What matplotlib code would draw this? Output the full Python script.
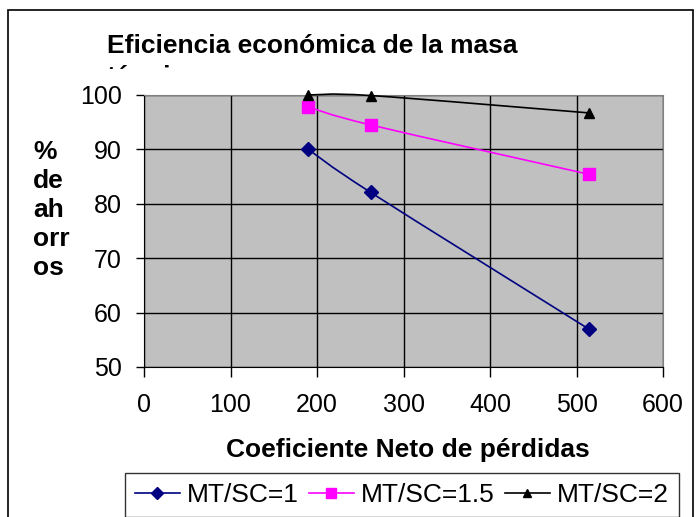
import numpy as np
import matplotlib
matplotlib.use('Agg')
import matplotlib.pyplot as plt
from matplotlib.path import Path
from matplotlib.patches import PathPatch, Rectangle
from matplotlib.lines import Line2D
from matplotlib.transforms import Bbox

plt.rcParams['font.family'] = ['Liberation Sans', 'DejaVu Sans']

# data
coef = [190, 262, 515]
mt1 = [90.0, 82.1, 56.9]
mt15 = [97.8, 94.5, 85.4]
mt2 = [100.0, 99.9, 96.7]
labels = ['MT/SC=1', 'MT/SC=1.5', 'MT/SC=2']
xticks = [0, 100, 200, 300, 400, 500, 600]
yticks = [50, 60, 70, 80, 90, 100]


def smooth_path(x, y):
    # Excel style smoothed line (Catmull-Rom as cubic Bezier)
    pts = np.column_stack([x, y]).astype(float)
    n = len(pts)
    verts = [pts[0]]
    codes = [Path.MOVETO]
    for i in range(n - 1):
        p0 = pts[max(i - 1, 0)]
        p1 = pts[i]
        p2 = pts[i + 1]
        p3 = pts[min(i + 2, n - 1)]
        verts += [p1 + (p2 - p0) / 6, p2 - (p3 - p1) / 6, p2]
        codes += [Path.CURVE4] * 3
    return Path(verts, codes)


W, H = 696, 517
fig = plt.figure(figsize=(W / 100, H / 100), dpi=100)
ax = fig.add_axes([144 / W, 1 - 367 / H, (663 - 144) / W, (367 - 95) / H])

# outer chart frame
fig.patches.append(Rectangle((8 / W, -0.05), (693 - 8) / W, 1 - 10 / H + 0.05,
                             transform=fig.transFigure, fill=False,
                             edgecolor='black', linewidth=1.2))

ax.set_facecolor('#C0C0C0')
ax.set_xlim(0, 600)
ax.set_ylim(50, 100)
ax.set_xticks(xticks)
ax.set_yticks(yticks)
ax.grid(True, color='black', linewidth=1)
ax.set_axisbelow(True)
for s in ['top', 'right']:
    ax.spines[s].set_color('#808080')
for s in ['left', 'bottom']:
    ax.spines[s].set_color('black')
ax.tick_params(axis='y', direction='out', length=6, width=1, labelsize=18, pad=10)
ax.tick_params(axis='x', direction='out', length=7, width=1, labelsize=18, pad=12)

series = [
    (mt1, '#000080', 'D', 7),
    (mt15, '#FF00FF', 's', 8),
    (mt2, 'black', '^', 7),
]
handles = []
for (vals, col, mk, ms), lab in zip(series, labels):
    ax.add_patch(PathPatch(smooth_path(coef, vals), facecolor='none',
                           edgecolor=col, linewidth=1.2, clip_on=False, zorder=3))
    ax.plot(coef, vals, linestyle='none', marker=mk, markersize=ms, color=col,
            clip_on=False, zorder=4)
    handles.append(Line2D([], [], color=col, linewidth=1.2, marker=mk,
                          markersize=ms - 1, label=lab))

# title, second line cut off as in the original
fig.text(107 / W, 1 - 53 / H, 'Eficiencia económica de la masa',
         fontsize=19, fontweight='bold', ha='left', va='baseline')
t2 = fig.text(107 / W, 1 - 84 / H, 'térmica',
              fontsize=19, fontweight='bold', ha='left', va='baseline')
t2.set_clip_box(Bbox.from_extents(0, H - 69, W, H))
t2.set_clip_on(True)

fig.text(33 / W, 1 - 210 / H, '%\nde\nah\norr\nos', fontsize=19,
         fontweight='bold', ha='left', va='center', linespacing=1.26)

fig.text(408 / W, 1 - 450 / H, 'Coeficiente Neto de pérdidas', fontsize=19,
         fontweight='bold', ha='center', va='center')

leg = fig.legend(handles=handles, loc='upper left',
                 bbox_to_anchor=(125 / W, 1 - 473 / H), ncol=3,
                 fontsize=19, frameon=True, fancybox=False, borderpad=0.38,
                 handlelength=1.7, handletextpad=0.27, columnspacing=0.38,
                 borderaxespad=0)
leg.get_frame().set_edgecolor('black')
leg.get_frame().set_linewidth(1)

fig.savefig('out.png', dpi=100)
